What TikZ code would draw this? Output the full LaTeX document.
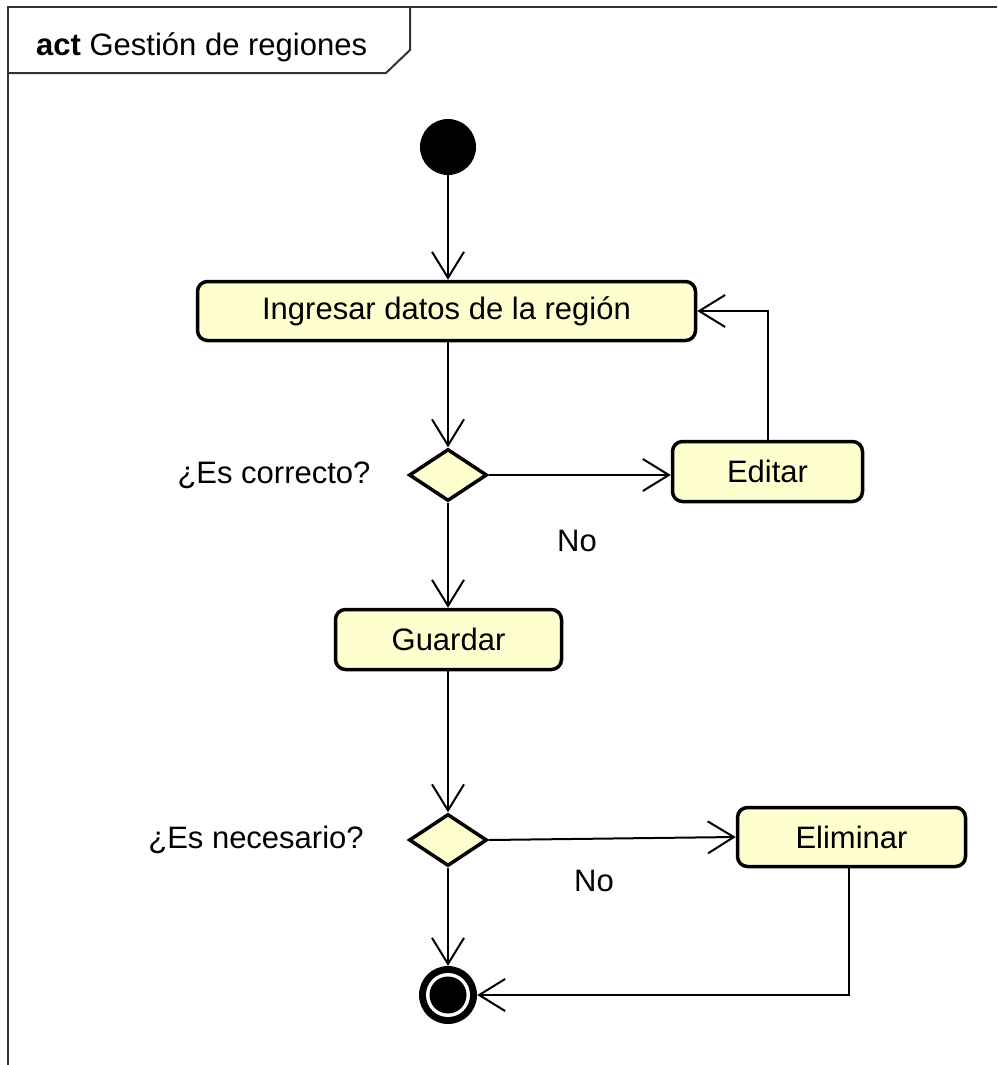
\documentclass[tikz,border=0pt]{standalone}
\usepackage{fontspec}
\setmainfont{Liberation Sans}
\usetikzlibrary{shapes.geometric,arrows.meta}
\definecolor{actfill}{HTML}{FEFECE}
\definecolor{framecol}{HTML}{333333}
\tikzset{
  actbox/.style={draw=black, fill=actfill, line width=3.5pt, rounded corners=10pt,
    inner sep=0pt, font=\fontsize{31}{37}\selectfont},
  decision/.style={diamond, draw=black, fill=actfill, line width=3.5pt, inner sep=0pt,
    aspect=1.5, minimum width=78pt, minimum height=52pt},
  flow/.style={line width=2pt, -{Straight Barb[length=26pt,width=32pt,line width=2pt]}},
  lbl/.style={font=\fontsize{31}{37}\selectfont, inner sep=0pt}
}
\begin{document}
\begin{tikzpicture}[x=1pt,y=-1pt]
  \useasboundingbox (0,0) rectangle (997,1065);
  \fill[white] (0,0) rectangle (997,1065);

  % diagram frame with its name tab
  \draw[framecol, line width=2pt] (997,7) -- (8,7) -- (8,1065);
  \draw[framecol, line width=2pt] (8,73) -- (386,73) -- (410,50) -- (410,7);
  \node[lbl, anchor=base west] (title) at (36,56) {\textbf{act} Gestión de regiones};

  % initial and final nodes
  \node[circle, fill=black, minimum size=56pt, inner sep=0pt] (start) at (448,147) {};
  \node[circle, fill=black, minimum size=58pt, inner sep=0pt] (end) at (448,995) {};
  \fill[white] (end.center) circle (22pt);
  \fill[black] (end.center) circle (18.5pt);

  % actions
  \node[actbox, minimum width=498pt, minimum height=59pt] (ingresar) at (446.5,311) {Ingresar datos de la región};
  \node[actbox, minimum width=190pt, minimum height=60pt] (editar) at (767.5,471.5) {Editar};
  \node[actbox, minimum width=226pt, minimum height=60pt] (guardar) at (448.5,639.5) {Guardar};
  \node[actbox, minimum width=228pt, minimum height=59pt] (eliminar) at (851.5,837) {Eliminar};

  % decisions
  \node[decision] (d1) at (448,475) {};
  \node[decision] (d2) at (448,840) {};

  % labels
  \node[lbl] (q1) at (274,475) {¿Es correcto?};
  \node[lbl] (q2) at (256,840) {¿Es necesario?};
  \node[lbl] (no1) at (577,541) {No};
  \node[lbl] (no2) at (594,881) {No};

  % control flows
  \draw[flow] (start.south) -- (start.south |- ingresar.north);
  \draw[flow] (ingresar.south -| d1) -- (d1.north);
  \draw[flow] (d1.east) -- (d1.east -| editar.west);
  \draw[flow] (editar.north) |- (ingresar.east);
  \draw[flow] (d1.south) -- (d1.south |- guardar.north);
  \draw[flow] (guardar.south -| d2) -- (d2.north);
  \draw[flow] (d2.east) -- (eliminar.west);
  \draw[flow] (d2.south) -- (end.north);
  \draw[flow] ([xshift=-2.5pt]eliminar.south) |- (end.east);
\end{tikzpicture}
\end{document}
